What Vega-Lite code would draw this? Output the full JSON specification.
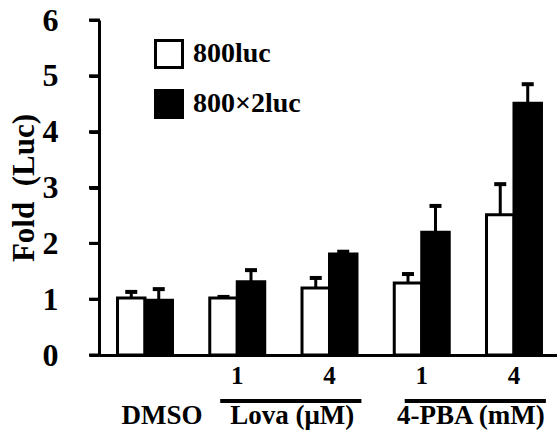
{
  "$schema": "https://vega.github.io/schema/vega-lite/v6.json",
  "width": 458,
  "height": 335,
  "autosize": {"type": "none"},
  "padding": {"left": 99, "top": 20, "right": 0, "bottom": 83},
  "background": "white",
  "config": {
    "view": {"stroke": null},
    "font": "Liberation Serif",
    "axisY": {
      "grid": false,
      "ticks": true, "tickSize": 10, "tickWidth": 3, "tickColor": "black", "domainWidth": 3, "domainColor": "black",
      "labelFont": "Liberation Serif", "labelFontWeight": "bold", "labelFontSize": 32, "labelColor": "black",
      "labelPadding": 31, "labelFlush": false, "labelOverlap": false,
      "titleFont": "Liberation Serif", "titleFontWeight": "bold", "titleFontSize": 31, "titleColor": "black",
      "titlePadding": 2
    },
    "axisX": {
      "grid": false,
      "ticks": false, "domainWidth": 3, "domainColor": "black",
      "labelFont": "Liberation Serif", "labelFontWeight": "bold", "labelFontSize": 25, "labelColor": "black",
      "labelPadding": 8, "labelAngle": 0, "labelBaseline": "top"
    }
  },
  "datasets": {
    "bars": [
      {"cond": "DMSO", "series": "800luc", "value": 1.02, "err": 1.13},
      {"cond": "DMSO", "series": "800×2luc", "value": 0.98, "err": 1.18},
      {"cond": "Lova1", "series": "800luc", "value": 1.02, "err": 1.04},
      {"cond": "Lova1", "series": "800×2luc", "value": 1.31, "err": 1.52},
      {"cond": "Lova4", "series": "800luc", "value": 1.2, "err": 1.38},
      {"cond": "Lova4", "series": "800×2luc", "value": 1.81, "err": 1.85},
      {"cond": "PBA1", "series": "800luc", "value": 1.29, "err": 1.45},
      {"cond": "PBA1", "series": "800×2luc", "value": 2.2, "err": 2.67},
      {"cond": "PBA4", "series": "800luc", "value": 2.51, "err": 3.06},
      {"cond": "PBA4", "series": "800×2luc", "value": 4.51, "err": 4.85}
    ],
    "yticks": [
      {"cond": "DMSO", "t": 0}, {"cond": "DMSO", "t": 1}, {"cond": "DMSO", "t": 2}, {"cond": "DMSO", "t": 3},
      {"cond": "DMSO", "t": 4}, {"cond": "DMSO", "t": 5}, {"cond": "DMSO", "t": 6}
    ]
  },
  "layer": [
    {
      "data": {"name": "bars"},
      "mark": {"type": "bar", "stroke": "black", "strokeWidth": 3},
      "encoding": {
        "x": {
          "field": "cond", "type": "nominal",
          "scale": {"domain": ["DMSO", "Lova1", "Lova4", "PBA1", "PBA4"], "paddingInner": 0.404, "paddingOuter": 0.1845, "align": 0.544},
          "axis": {
            "title": null,
            "labelExpr": "datum.value == 'DMSO' ? '' : ((datum.value == 'Lova1' || datum.value == 'PBA1') ? '1' : '4')"
          }
        },
        "xOffset": {"field": "series", "type": "nominal", "scale": {"domain": ["800luc", "800×2luc"], "paddingInner": 0, "paddingOuter": 0}},
        "y": {
          "field": "value", "type": "quantitative",
          "scale": {"domain": [0, 6], "nice": false},
          "axis": {"title": "Fold\u00a0 (Luc)", "values": [0, 1, 2, 3, 4, 5, 6], "format": "d", "ticks": true, "tickSize": 10, "tickWidth": 3, "tickColor": "#000000", "tickOpacity": 1}
        },
        "fill": {
          "field": "series", "type": "nominal",
          "scale": {"domain": ["800luc", "800×2luc"], "range": ["white", "black"]},
          "legend": {
            "title": null, "orient": "none", "legendX": 55, "legendY": 19,
            "symbolType": "square", "symbolSize": 729, "symbolStrokeColor": "black", "symbolStrokeWidth": 3,
            "labelFont": "Liberation Serif", "labelFontSize": 28, "labelFontWeight": "bold", "labelColor": "black",
            "labelOffset": 9, "rowPadding": 10, "padding": 0
          }
        }
      }
    },
    {
      "data": {"name": "yticks"},
      "mark": {"type": "rule", "strokeWidth": 3, "color": "black", "strokeCap": "butt"},
      "encoding": {
        "x": {"field": "cond", "type": "nominal", "bandPosition": -0.518, "scale": {"domain": ["DMSO", "Lova1", "Lova4", "PBA1", "PBA4"]}},
        "x2": {"field": "cond", "bandPosition": -0.32},
        "y": {"field": "t", "type": "quantitative", "scale": {"domain": [0, 6], "nice": false}}
      }
    },
    {
      "data": {"name": "bars"},
      "mark": {"type": "rule", "strokeWidth": 3, "color": "black"},
      "encoding": {
        "x": {"field": "cond", "type": "nominal", "scale": {"domain": ["DMSO", "Lova1", "Lova4", "PBA1", "PBA4"]}},
        "xOffset": {"field": "series", "type": "nominal", "scale": {"domain": ["800luc", "800×2luc"]}},
        "y": {"field": "value", "type": "quantitative", "scale": {"domain": [0, 6], "nice": false}},
        "y2": {"field": "err"}
      }
    },
    {
      "data": {"name": "bars"},
      "mark": {"type": "tick", "orient": "horizontal", "size": 12, "thickness": 4, "color": "black", "opacity": 1},
      "encoding": {
        "x": {"field": "cond", "type": "nominal", "scale": {"domain": ["DMSO", "Lova1", "Lova4", "PBA1", "PBA4"]}},
        "xOffset": {"field": "series", "type": "nominal", "scale": {"domain": ["800luc", "800×2luc"]}},
        "y": {"field": "err", "type": "quantitative", "scale": {"domain": [0, 6], "nice": false}}
      }
    },
    {
      "data": {"values": [{"from": "Lova1", "to": "Lova4"}, {"from": "PBA1", "to": "PBA4"}]},
      "mark": {"type": "rule", "strokeWidth": 4, "color": "black", "strokeCap": "butt"},
      "encoding": {
        "x": {"field": "from", "type": "nominal", "bandPosition": 0.19, "scale": {"domain": ["DMSO", "Lova1", "Lova4", "PBA1", "PBA4"]}},
        "x2": {"field": "to", "bandPosition": 1.08},
        "y": {"datum": -0.824, "type": "quantitative", "scale": {"domain": [0, 6], "nice": false}}
      }
    },
    {
      "data": {"values": [{"cond": "DMSO", "label": "DMSO"}]},
      "mark": {"type": "text", "font": "Liberation Serif", "fontWeight": "bold", "fontSize": 27, "baseline": "alphabetic", "align": "center", "color": "black"},
      "encoding": {
        "x": {"field": "cond", "type": "nominal", "bandPosition": 0.81, "scale": {"domain": ["DMSO", "Lova1", "Lova4", "PBA1", "PBA4"]}},
        "y": {"datum": -1.236, "type": "quantitative", "scale": {"domain": [0, 6], "nice": false}},
        "text": {"field": "label"}
      }
    },
    {
      "data": {"values": [{"cond": "Lova1", "label": "Lova (μM)"}]},
      "mark": {"type": "text", "font": "Liberation Serif", "fontWeight": "bold", "fontSize": 27, "baseline": "alphabetic", "align": "center", "color": "black"},
      "encoding": {
        "x": {"field": "cond", "type": "nominal", "bandPosition": 1.5, "scale": {"domain": ["DMSO", "Lova1", "Lova4", "PBA1", "PBA4"]}},
        "y": {"datum": -1.236, "type": "quantitative", "scale": {"domain": [0, 6], "nice": false}},
        "text": {"field": "label"}
      }
    },
    {
      "data": {"values": [{"cond": "PBA1", "label": "4-PBA (mM)"}]},
      "mark": {"type": "text", "font": "Liberation Serif", "fontWeight": "bold", "fontSize": 27, "baseline": "alphabetic", "align": "center", "color": "black"},
      "encoding": {
        "x": {"field": "cond", "type": "nominal", "bandPosition": 1.395, "scale": {"domain": ["DMSO", "Lova1", "Lova4", "PBA1", "PBA4"]}},
        "y": {"datum": -1.236, "type": "quantitative", "scale": {"domain": [0, 6], "nice": false}},
        "text": {"field": "label"}
      }
    }
  ]
}
